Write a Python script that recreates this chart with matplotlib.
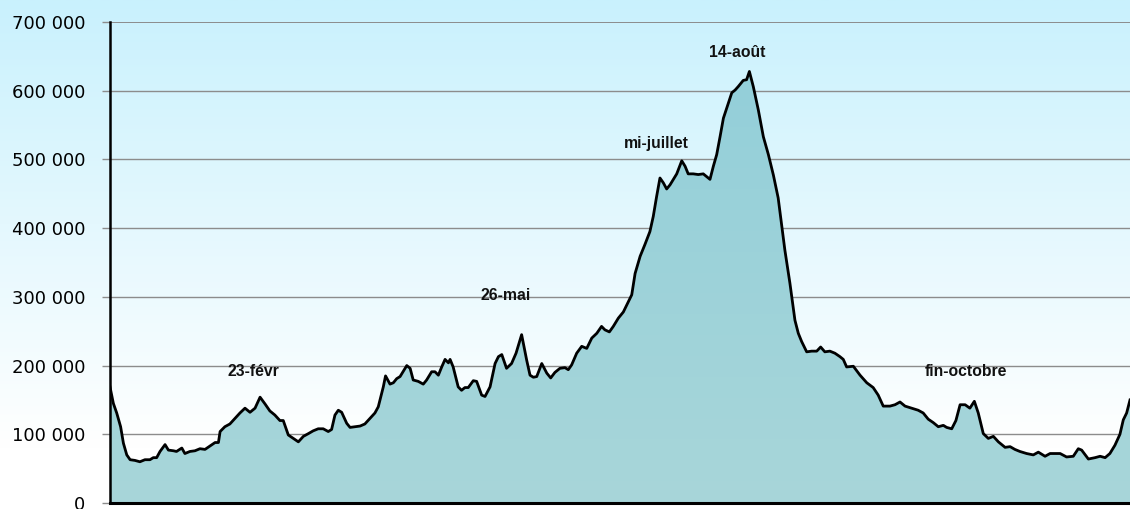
import numpy as np
import matplotlib.pyplot as plt
from matplotlib.colors import LinearSegmentedColormap
from matplotlib.ticker import FuncFormatter

# day of year and daily value in thousands
days = [0.0, 1.2, 2.4, 3.8, 4.8, 6.0, 7.2, 8.9, 10.7, 12.5, 14.3, 15.5, 16.7, 17.9, 19.7,
        20.9, 22.7, 23.8, 25.7, 26.8, 28.6, 30.4, 32.2, 34.0, 35.8, 37.6, 38.8, 39.4, 41.1,
        42.9, 44.7, 46.5, 48.3, 50.1, 51.9, 53.7, 55.5, 57.2, 59.0, 60.8, 62.0, 63.8, 65.6,
        67.4, 69.2, 71.0, 72.7, 74.5, 76.3, 78.1, 79.3, 80.5, 81.7, 82.9, 84.7, 85.9, 87.7,
        89.5, 91.2, 93.0, 94.8, 96.0, 97.8, 98.6, 100.2, 101.4, 102.6,
        103.8, 106.2, 107.4, 108.5, 110.3, 112.1, 113.3, 115.1, 116.3, 117.5, 118.7, 119.9,
        121.1, 121.7, 122.8, 124.6, 125.8, 127.0, 128.2, 130.0, 131.2, 133.0, 134.2, 136.0,
        137.8, 139.0, 140.2, 141.9, 143.7, 145.3, 147.3, 149.1, 150.3, 151.5, 152.7, 154.5,
        156.3, 157.7, 159.2, 161.0, 162.8, 164.0, 165.2, 167.0, 168.8, 170.6, 172.4, 174.2,
        175.9, 177.1, 178.7, 180.1, 181.9, 183.7, 185.5, 186.7, 187.9, 189.7, 191.4, 193.2,
        194.4, 195.6, 196.8, 198.0, 199.2, 200.4, 201.6, 202.8, 204.6, 205.8, 206.9, 208.7,
        210.5, 212.3, 213.5, 214.7, 215.9, 217.1, 218.3, 219.5, 221.3, 222.5, 223.7, 224.8,
        226.6, 227.8, 228.8, 230.2, 232.0, 233.8, 235.6, 237.4, 239.1,
        241.5, 243.3, 245.1, 246.3, 247.5, 249.3, 251.1, 252.9, 254.3, 255.8, 257.6, 259.4,
        261.2, 262.4, 263.6, 266.0, 268.4, 270.8, 273.1, 274.9, 276.7, 279.1, 280.9, 282.7,
        284.5, 286.9, 289.2, 291.0, 292.8, 294.6, 296.4, 298.2, 299.4, 301.2, 302.7, 304.2,
        306.0, 307.7, 309.3, 310.7, 312.5, 314.3, 316.1, 317.9, 320.3, 322.1, 323.8, 325.6,
        328.0, 330.4, 332.2, 334.6, 336.4, 338.2, 340.0, 342.3, 344.7, 346.5, 347.7, 350.1,
        352.5, 354.3, 356.1, 357.8, 359.6, 361.4, 362.6, 363.8, 365.0]
values_k = [169, 145, 131, 111, 87, 70, 63, 62, 60, 63, 63, 66, 66, 75, 85,
            77, 76, 75, 80, 72, 75, 76, 79, 78, 83, 88, 88, 104, 111,
            115, 123, 131, 138, 132, 138, 154, 144, 134, 128, 120, 120, 99, 94,
            89, 97, 101, 105, 108, 108, 104, 107, 128, 135, 132, 116, 110, 111,
            112, 115, 123, 131, 140, 169, 185, 173, 175, 181,
            184, 200, 196, 179, 177, 173, 179, 191, 191, 186, 198, 209,
            204, 209, 198, 169, 164, 168, 168, 178, 177, 157, 155, 169,
            203, 213, 216, 196, 203, 218, 245, 208, 186, 183, 184, 203,
            189, 182, 190, 196, 197, 194, 201, 218, 228, 225, 240, 247,
            257, 252, 249, 257, 269, 278, 293, 303, 334, 359, 376, 395,
            417, 446, 473, 466, 457, 463, 471, 479, 498, 490, 479, 479,
            478, 479, 475, 471, 490, 507, 533, 560, 582, 597, 601, 606,
            615, 616, 628, 606, 572, 533, 507, 477, 444,
            368, 320, 266, 247, 235, 220, 221, 221, 227, 220, 221, 218,
            213, 209, 198, 199, 186, 175, 168, 157, 141, 141, 143, 147,
            141, 138, 135, 131, 122, 117, 111, 113, 110, 108, 120, 143,
            143, 138, 148, 131, 101, 94, 97, 89, 81, 82, 78, 75,
            72, 70, 74, 68, 72, 72, 72, 67, 68, 79, 77, 64,
            66, 68, 66, 72, 84, 100, 121, 131, 150]

labels = ['23-févr', '26-mai', 'mi-juillet', '14-août', 'fin-octobre']
label_days = [51.2, 141.7, 195.4, 224.5, 306.3]
label_vals = [192000, 302000, 523000, 655000, 192000]

x = np.array(days)
y = np.array(values_k) * 1000

fig = plt.figure(figsize=(11.3, 5.09), dpi=100)

# background gradient over the whole figure
bg = fig.add_axes([0, 0, 1, 1], zorder=0)
bg_cmap = LinearSegmentedColormap.from_list('bg', [(0, '#ffffff'), (0.12, '#ffffff'), (1, '#c9f1fd')])
bg.imshow(np.linspace(0, 1, 256).reshape(-1, 1), aspect='auto', cmap=bg_cmap,
          origin='lower', extent=[0, 1, 0, 1])
bg.axis('off')

ax = fig.add_axes([110 / 1130, 1 - 503 / 509, 1 - 110 / 1130, (503 - 22) / 509], zorder=1)
ax.patch.set_alpha(0)

ax.set_xlim(0, 365)
ax.set_ylim(0, 700000)

# gridlines
for v in range(100000, 700001, 100000):
    ax.axhline(v, color='#8c8c8c', lw=1.4 if v == 700000 else 1.0, zorder=1)

# filled area with a vertical gradient, then the black outline
poly = ax.fill_between(x, 0, y, color='none', zorder=2)
fill_cmap = LinearSegmentedColormap.from_list('fill', ['#a8d6da', '#93cfd9'])
img = ax.imshow(np.linspace(0, 1, 256).reshape(-1, 1), aspect='auto', cmap=fill_cmap,
                origin='lower', extent=[0, 365, 0, 640000], zorder=2)
img.set_clip_path(poly.get_paths()[0], transform=ax.transData)
ax.set_xlim(0, 365)
ax.set_ylim(0, 700000)
ax.plot(x, y, color='black', lw=2.0, zorder=3, solid_joinstyle='round')

for txt, d, v in zip(labels, label_days, label_vals):
    ax.text(d, v, txt, ha='center', va='center', fontsize=11.3, fontweight='bold',
            family='Liberation Sans', color='#111111', zorder=4)

ax.set_yticks(range(0, 700001, 100000))
ax.yaxis.set_major_formatter(FuncFormatter(lambda v, p: f'{int(v):,}'.replace(',', ' ')))
ax.tick_params(axis='y', length=6, width=1, color='#8c8c8c', labelsize=13, pad=12)
ax.set_xticks([])
for side in ['top', 'right']:
    ax.spines[side].set_visible(False)
ax.spines['left'].set_linewidth(1.8)
ax.spines['bottom'].set_linewidth(2.2)

fig.savefig('out.png', dpi=100)
